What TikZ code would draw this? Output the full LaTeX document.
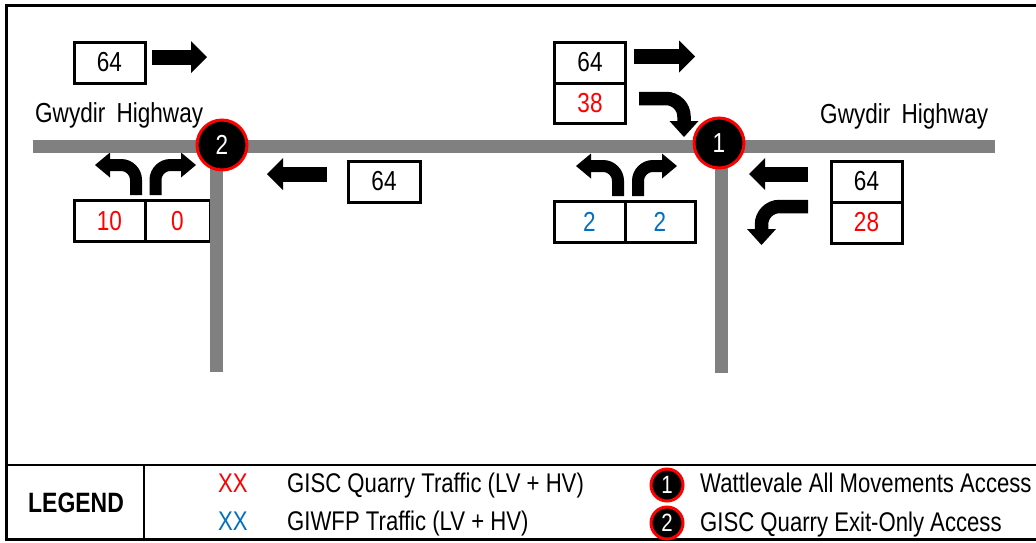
\documentclass[tikz,border=0pt]{standalone}
\usepackage{fontspec}
\setmainfont{Liberation Sans}[FakeStretch=0.82]
\usetikzlibrary{arrows.meta}
\definecolor{qred}{RGB}{255,0,0}
\definecolor{qblue}{RGB}{0,112,192}
\definecolor{roadgray}{RGB}{128,128,128}
\begin{document}
\begin{tikzpicture}[x=1pt,y=-1pt,
  every node/.style={font=\fontsize{27.5}{30}\selectfont},
  box/.style={draw=black, line width=3pt, minimum width=71pt, minimum height=41pt, inner sep=0pt},
  road/.style={draw=roadgray, line width=13pt},
  flow/.style={line width=15pt, -{Triangle[length=16pt,width=32pt,line width=0pt]}},
  turn/.style={line width=12pt, rounded corners=15pt, -{Triangle[length=15pt,width=25pt,line width=0pt]}},
  bigturn/.style={line width=13.5pt, rounded corners=18pt, -{Triangle[length=16pt,width=29pt,line width=0pt]}},
  junction/.style={circle, fill=black, draw=qred, line width=3pt, minimum size=50pt, inner sep=0pt, text=white},
  legjunction/.style={circle, fill=black, draw=qred, line width=3pt, minimum size=32pt, inner sep=0pt, text=white, font=\fontsize{25}{28}\selectfont},
  frame/.style={line width=2.5pt},
  label/.style={anchor=base west, inner sep=0pt},
  legtext/.style={anchor=base west, inner sep=0pt, font=\fontsize{27}{30}\selectfont}
]
\useasboundingbox (0,0) rectangle (1036,542);

% frame and legend rules
\coordinate (tl) at (6.5,5.5);
\coordinate (tr) at (1040,5.5);
\coordinate (bl) at (6.5,539.5);
\coordinate (br) at (1040,539.5);
\coordinate (ml) at (6.5,465);
\coordinate (mr) at (1040,465);
\coordinate (dt) at (144,465);
\coordinate (db) at (144,539.5);
\draw[frame] (tr) -- (tl) -- (bl) -- (br);
\draw[frame] (ml) -- (mr);
\draw[frame] (dt) -- (db);

% ---- left intersection (2) ----
\node[box] (l64) at (109.5,62.5) {64};
\node[box] (l10) at (109.5,221) {\color{qred}10};
\node[box, minimum width=65pt] (l0) at (177.5,221) {\color{qred}0};
\node[box, minimum width=72pt] (m64) at (384,181.5) {64};

\coordinate (a1s) at (152,57);  \coordinate (a1e) at (207,57);
\draw[flow] (a1s) -- (a1e);
\coordinate (a2s) at (327,174); \coordinate (a2e) at (267,174);
\draw[flow] (a2s) -- (a2e);
\coordinate (t1s) at (136,195); \coordinate (t1c) at (136,165); \coordinate (t1e) at (95,165);
\draw[turn] (t1s) -- (t1c) -- (t1e);
\coordinate (t2s) at (155.5,195); \coordinate (t2c) at (155.5,165); \coordinate (t2e) at (196,165);
\draw[turn] (t2s) -- (t2c) -- (t2e);

\node[label] (lname) at (35,122) {Gwydir\hspace{5pt} Highway};

% ---- right intersection (1) ----
\node[box] (r64) at (590,62.5) {64};
\node[box, minimum height=40pt] (r38) at (590,103) {\color{qred}38};
\node[box] (r2a) at (589.5,221.5) {\color{qblue}2};
\node[box, minimum width=70pt] (r2b) at (660,221.5) {\color{qblue}2};
\node[box] (e64) at (866.5,181.5) {64};
\node[box] (e28) at (866.5,222.5) {\color{qred}28};

\coordinate (a3s) at (634,56.5);  \coordinate (a3e) at (695,56.5);
\draw[flow] (a3s) -- (a3e);
\coordinate (t3s) at (639,98.5); \coordinate (t3c) at (684,98.5); \coordinate (t3e) at (684,137);
\draw[bigturn] (t3s) -- (t3c) -- (t3e);
\coordinate (t4s) at (618,196); \coordinate (t4c) at (618,166); \coordinate (t4e) at (576,166);
\draw[turn] (t4s) -- (t4c) -- (t4e);
\coordinate (t5s) at (638,196); \coordinate (t5c) at (638,166); \coordinate (t5e) at (677,166);
\draw[turn] (t5s) -- (t5c) -- (t5e);
\coordinate (a4s) at (808,174); \coordinate (a4e) at (749,174);
\draw[flow] (a4s) -- (a4e);
\coordinate (t6s) at (808,206.5); \coordinate (t6c) at (761.5,206.5); \coordinate (t6e) at (761.5,245);
\draw[bigturn] (t6s) -- (t6c) -- (t6e);

\node[label] (rname) at (820,123) {Gwydir\hspace{5pt} Highway};

% ---- roads ----
\coordinate (hw1) at (33,146);  \coordinate (hw2) at (995,146);
\coordinate (s2a) at (216,146); \coordinate (s2b) at (216,372);
\coordinate (s1a) at (721,146); \coordinate (s1b) at (721,373);
\draw[road] (hw1) -- (hw2);
\draw[road] (s2a) -- (s2b);
\draw[road] (s1a) -- (s1b);

\node[junction] (j2) at (222,145) {2};
\node[junction] (j1) at (719,143) {1};

% ---- legend ----
\node[anchor=base, inner sep=0pt, font=\fontsize{28}{30}\selectfont\bfseries] (leg) at (76,512) {LEGEND};
\node[legtext, text=qred] (xxr) at (218,492) {XX};
\node[legtext, text=qblue] (xxb) at (218,530) {XX};
\node[legtext] (gisc) at (287,492) {GISC Quarry Traffic (LV + HV)};
\node[legtext] (giwfp) at (287,530) {GIWFP Traffic (LV + HV)};
\node[legjunction] (lj1) at (667,485) {1};
\node[legjunction] (lj2) at (667,523) {2};
\node[legtext] (watt) at (700,492.5) {Wattlevale All Movements Access};
\node[legtext] (exit) at (700,531) {GISC Quarry Exit-Only Access};
\end{tikzpicture}
\end{document}
